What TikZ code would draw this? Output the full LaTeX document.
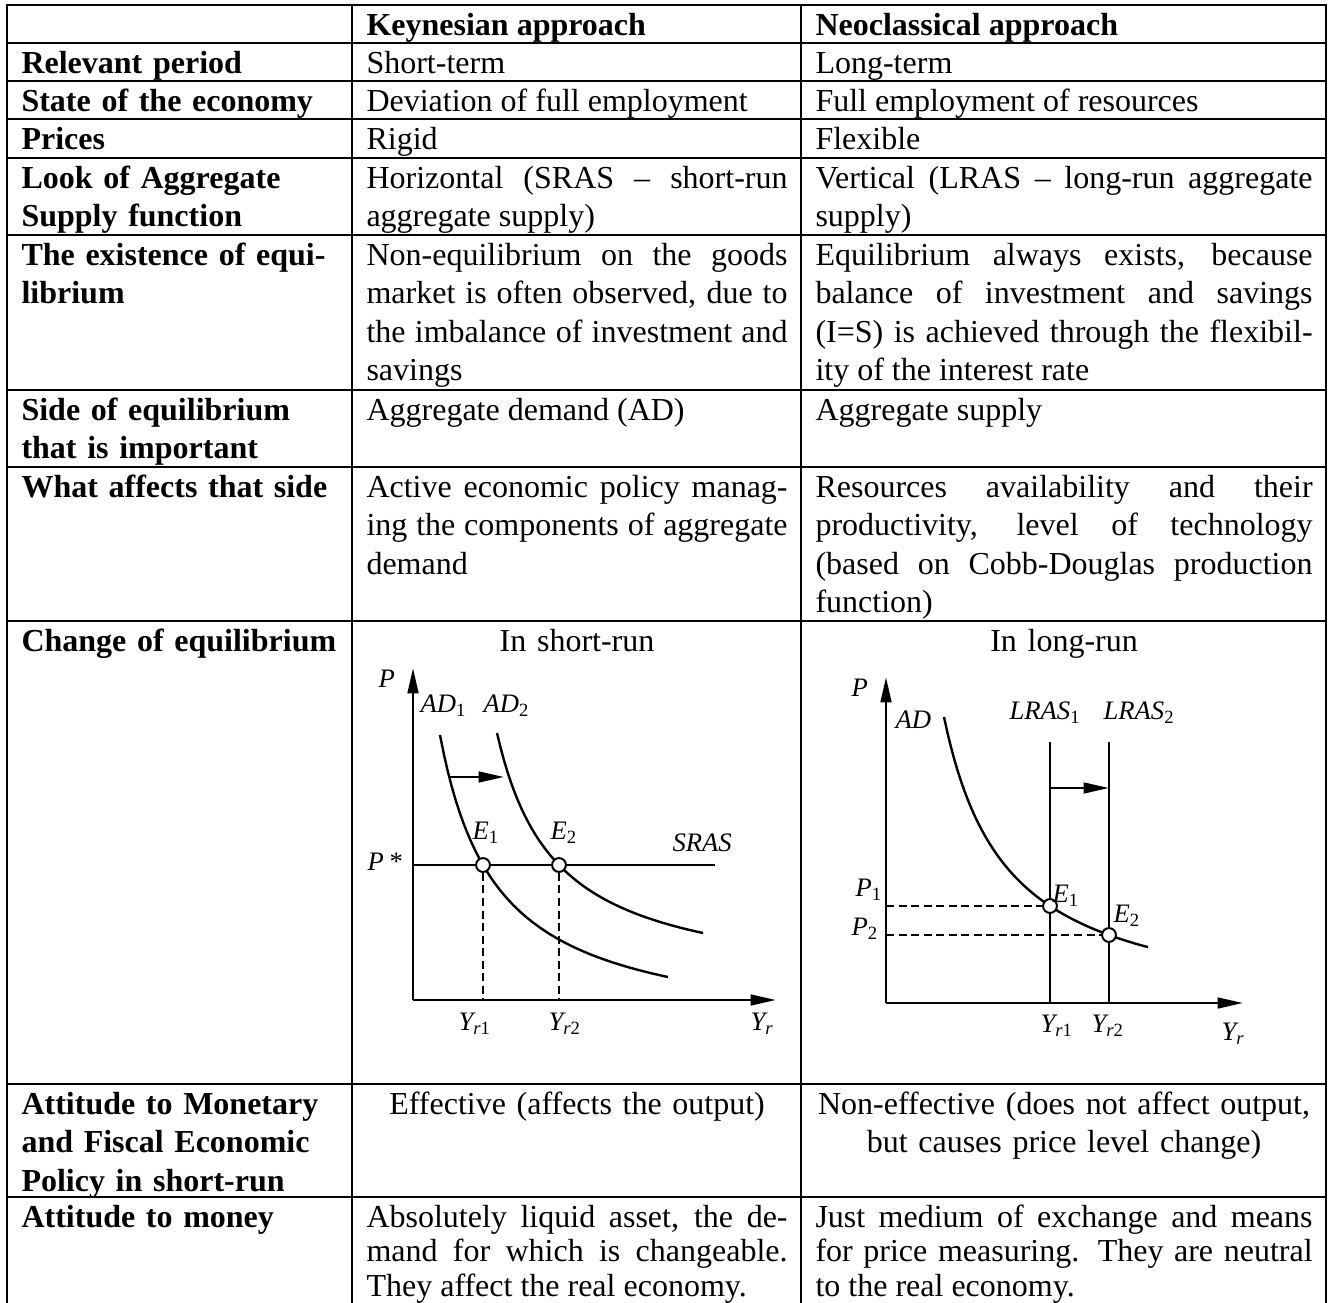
\documentclass[tikz,border=0pt]{standalone}
\usepackage{fontspec}
\setmainfont{Liberation Serif}
\usetikzlibrary{arrows.meta}
\setlength{\parindent}{0pt}
\newcommand{\cellfont}{\fontsize{12pt}{14.44pt}\selectfont}
\newcommand{\lastfont}{\fontsize{12pt}{13.1pt}\selectfont}
\newcommand{\tp}{\rule{0pt}{11.06pt}}
\newcommand{\lo}[1]{\textsubscript{\upshape #1}}

\begin{document}
\begin{tikzpicture}[x=0.375pt,y=-0.375pt,
  >={Triangle[length=9.5pt,width=4pt]},
  grid/.style={line width=0.75pt},
  cell/.style={anchor=north west,inner sep=0pt,font=\cellfont,align=justify},
  ca/.style={cell,text width=118.9pt,font=\cellfont\bfseries,align=left},
  cb/.style={cell,text width=157.9pt},
  cc/.style={cell,text width=186.4pt},
  lbl/.style={anchor=base west,inner sep=0pt,font=\fontsize{10pt}{12pt}\selectfont\itshape},
  axis/.style={line width=1pt,->},
  curve/.style={line width=0.9pt},
  guide/.style={line width=0.75pt,dash pattern=on 3pt off 1.7pt},
  pt/.style={circle,draw,fill=white,line width=0.75pt,inner sep=0pt,minimum size=5.2pt}]

\useasboundingbox (0,0) rectangle (1333,1303);
\clip (0,0) rectangle (1333,1303);

% table lines
\draw[grid] (7,1303) -- (7,5) -- (1326,5) -- (1326,1303);
\foreach \y in {43,81,119,158,235,390,467,621,1084,1197}
  \draw[grid] (7,\y) -- (1326,\y);
\foreach \x in {352,801}
  \draw[grid] (\x,5) -- (\x,1303);

% header
\node[cb,font=\cellfont\bfseries] (h2) at (366,5) {\tp Keynesian approach};
\node[cc,font=\cellfont\bfseries] (h3) at (815,5) {\tp Neoclassical approach};

% rows
\node[ca] (r1) at (21,43) {\tp Relevant period};
\node[cb] (r1b) at (366,43) {\tp Short-term};
\node[cc] (r1c) at (815,43) {\tp Long-term};

\node[ca] (r2) at (21,81) {\tp State of the economy};
\node[cb] (r2b) at (366,81) {\tp Deviation of full employment};
\node[cc] (r2c) at (815,81) {\tp Full employment of resources};

\node[ca] (r3) at (21,119) {\tp Prices};
\node[cb] (r3b) at (366,119) {\tp Rigid};
\node[cc] (r3c) at (815,119) {\tp Flexible};

\node[ca] (r4) at (21,158) {\tp Look of Aggregate\\Supply function};
\node[cb] (r4b) at (366,158) {\tp Horizontal (SRAS – short-run\linebreak aggregate supply)};
\node[cc] (r4c) at (815,158) {\tp Vertical (LRAS – long-run aggregate\linebreak supply)};

\node[ca] (r5) at (21,235) {\tp The existence of equi-\\librium};
\node[cb] (r5b) at (366,235) {\tp Non-equilibrium on the goods\linebreak
  market is often observed, due to\linebreak
  the imbalance of investment and\linebreak savings};
\node[cc] (r5c) at (815,235) {\tp Equilibrium always exists, because\linebreak
  balance of investment and savings\linebreak
  (I=S) is achieved through the flexibil-\linebreak ity of the interest rate};

\node[ca] (r6) at (21,390) {\tp Side of equilibrium\\that is important};
\node[cb] (r6b) at (366,390) {\tp Aggregate demand (AD)};
\node[cc] (r6c) at (815,390) {\tp Aggregate supply};

\node[ca] (r7) at (21,467) {\tp What affects that side};
\node[cb] (r7b) at (366,467) {\tp Active economic policy manag-\linebreak
  ing the components of aggregate\linebreak demand};
\node[cc] (r7c) at (815,467) {\tp Resources availability and their\linebreak
  productivity, level of technology\linebreak
  (based on Cobb-Douglas production\linebreak function)};

\node[ca] (r8) at (21,621) {\tp Change of equilibrium};
\node[cb,align=center] (r8b) at (366,621) {\tp In short-run};
\node[cc,align=center] (r8c) at (815,621) {\tp In long-run};

\node[ca] (r9) at (21,1084) {\tp Attitude to Monetary\\and Fiscal Economic\\Policy in short-run};
\node[cb,align=center] (r9b) at (366,1084) {\tp Effective (affects the output)};
\node[cc,align=center] (r9c) at (815,1084) {\tp Non-effective (does not affect output,\\but causes price level change)};

\node[ca,font=\lastfont\bfseries] (r10) at (21,1197) {\tp Attitude to money};
\node[cb,font=\lastfont] (r10b) at (366,1197) {\tp Absolutely liquid asset, the de-\linebreak
  mand for which is changeable.\linebreak They affect the real economy.};
\node[cc,font=\lastfont] (r10c) at (815,1197) {\tp Just medium of exchange and means\linebreak
  for price measuring. They are neutral\linebreak to the real economy.};

% short-run graph
\coordinate (o1) at (413,1000);
\coordinate (py1) at (413,668);
\coordinate (px1) at (776,1000);
\coordinate (s1) at (715,865);
\coordinate (a1) at (449,777);
\coordinate (a2) at (504,777);
\draw[axis] (o1) -- (py1);
\draw[axis] (o1) -- (px1);
\draw[curve] (o1 |- s1) -- (s1);
\draw[curve] plot[domain=440:668,samples=60] (\x,{1037.6-172.76/((\x-382.91)/100)});
\draw[curve] plot[domain=497:703,samples=60] (\x,{990-150.89/((\x-438.29)/100)});
\draw[curve,->] (a1) -- (a2);
\node[pt] (e1) at (483,865) {};
\node[pt] (e2) at (559,865) {};
\draw[guide] (e1) -- (e1 |- o1);
\draw[guide] (e2) -- (e2 |- o1);

\node[lbl] (lp1) at (378,687) {P};
\node[lbl] (lad1) at (420,712) {AD\lo{1}};
\node[lbl] (lad2) at (483,712) {AD\lo{2}};
\node[lbl] (le1) at (472,839) {E\lo{1}};
\node[lbl] (le2) at (550,839) {E\lo{2}};
\node[lbl] (lsr) at (672,851) {SRAS};
\node[lbl] (lps) at (367,870) {P\,*};
\node[lbl] (ly1) at (458,1030) {Y\lo{\textit{r}1}};
\node[lbl] (ly2) at (548,1030) {Y\lo{\textit{r}2}};
\node[lbl] (lyr1) at (750,1030) {Y\lo{\textit{r}}};

% long-run graph
\coordinate (o2) at (886,1003);
\coordinate (py2) at (886,677);
\coordinate (px2) at (1243,1003);
\coordinate (t1) at (1050,742);
\coordinate (t2) at (1109,742);
\coordinate (b1) at (1050,788);
\coordinate (b2) at (1109,788);
\draw[axis] (o2) -- (py2);
\draw[axis] (o2) -- (px2);
\draw[curve] (t1) -- (t1 |- o2);
\draw[curve] (t2) -- (t2 |- o2);
\draw[curve] plot[domain=944:1148,samples=60] (\x,{1017.97-189/((\x-881.2)/100)});
\draw[curve,->] (b1) -- (b2);
\node[pt] (e3) at (1050,906) {};
\node[pt] (e4) at (1109,935) {};
\draw[guide] (o2 |- e3) -- (e3);
\draw[guide] (o2 |- e4) -- (e4);

\node[lbl] (lp2) at (851,696) {P};
\node[lbl] (lad) at (895,728) {AD};
\node[lbl] (ll1) at (1009,719) {LRAS\lo{1}};
\node[lbl] (ll2) at (1103,719) {LRAS\lo{2}};
\node[lbl] (le3) at (1052,902) {E\lo{1}};
\node[lbl] (le4) at (1113,922) {E\lo{2}};
\node[lbl] (lp3) at (855,896) {P\lo{1}};
\node[lbl] (lp4) at (851,935) {P\lo{2}};
\node[lbl] (ly3) at (1040,1032) {Y\lo{\textit{r}1}};
\node[lbl] (ly4) at (1091,1032) {Y\lo{\textit{r}2}};
\node[lbl] (lyr2) at (1221,1040) {Y\lo{\textit{r}}};

\end{tikzpicture}
\end{document}
